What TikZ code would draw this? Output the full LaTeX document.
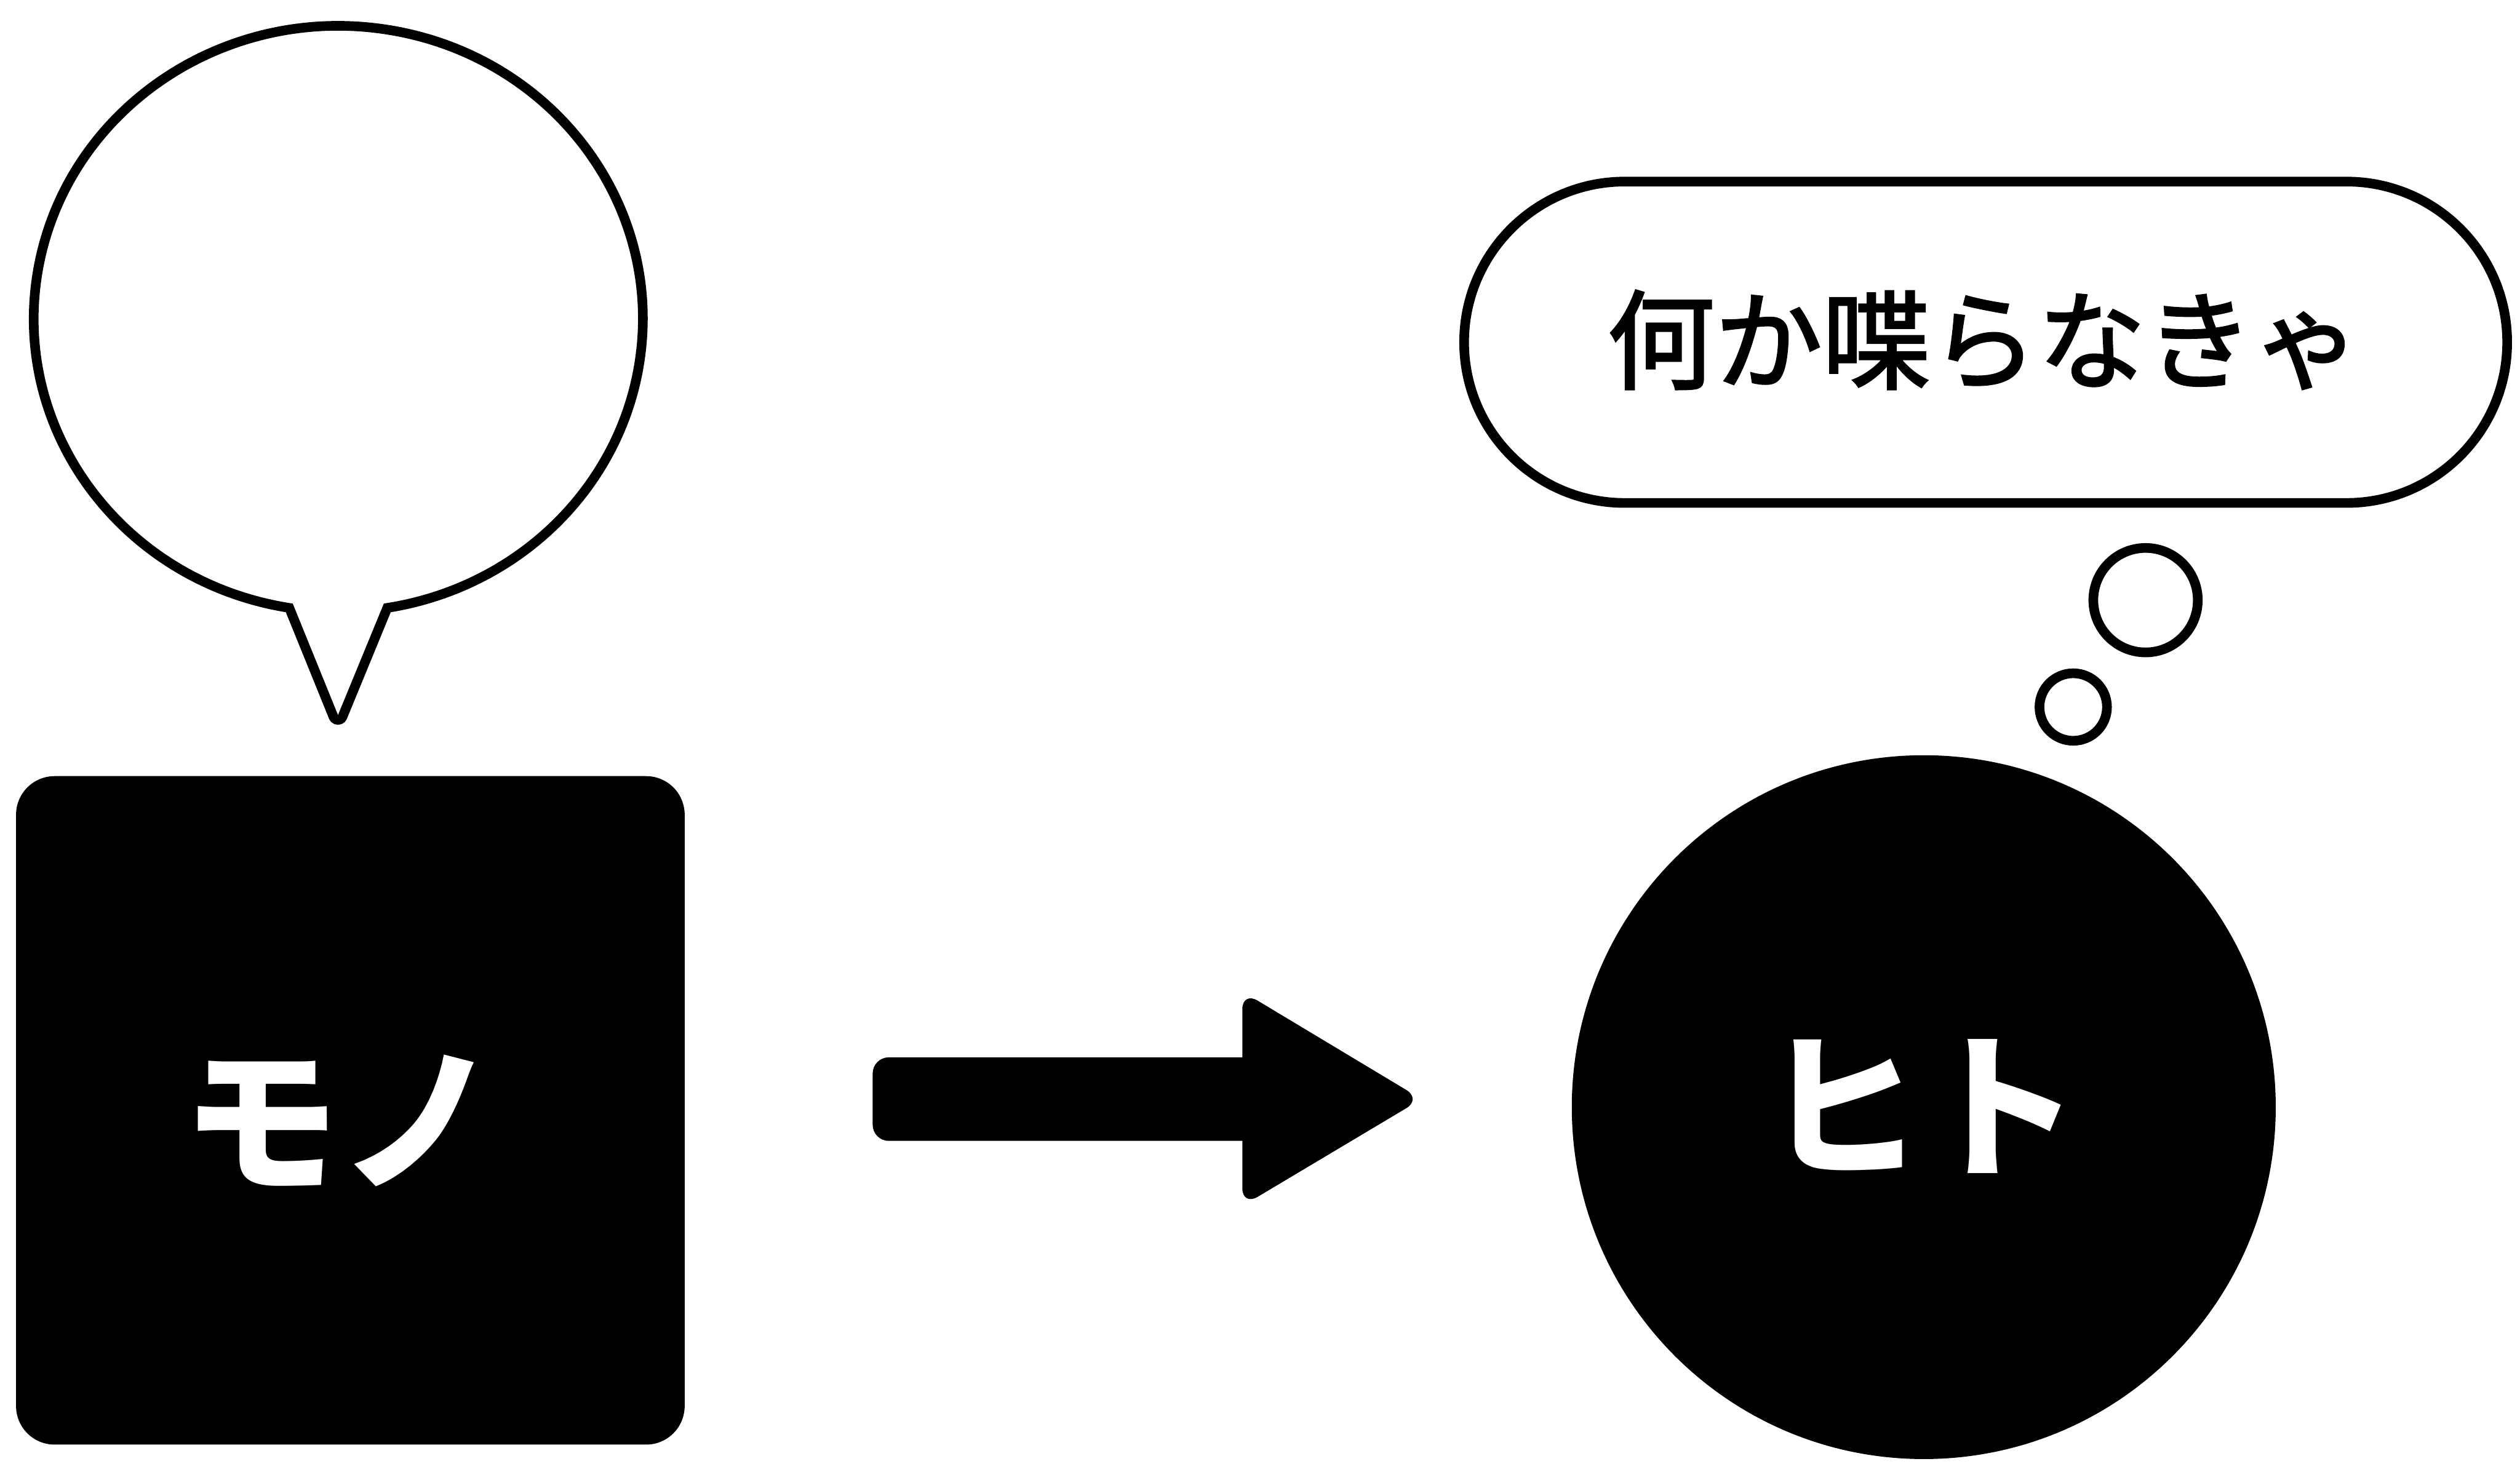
\documentclass[tikz,border=0pt]{standalone}
\usepackage{fontspec}
\newfontfamily\jpfont{Noto Sans CJK JP}
\newfontfamily\jpmedium{Noto Sans CJK JP}[FakeBold=2]
\begin{document}
\begin{tikzpicture}[x=1pt,y=-1pt,
  outline/.style={draw=black, fill=white, line width=6pt},
  bigtext/.style={text=white, font=\jpfont\bfseries\fontsize{98}{98}\selectfont, inner sep=0pt},
  thinktext/.style={font=\jpmedium\fontsize{67}{67}\selectfont, inner sep=0pt}]
\useasboundingbox[fill=white] (0,0) rectangle (1568,916);

% speech bubble
\draw[outline, line join=miter] (180,378.3)
  arc[start angle=99.26, end angle=440.74, x radius=189.5, y radius=182.3]
  -- (213.07,446.16) arc[start angle=22.7, end angle=157.3, radius=3] -- cycle;

% black square
\node[fill=black, rounded corners=24pt, minimum width=416pt, minimum height=416pt, inner sep=0pt] (mono) at (218,691) {};
\node[bigtext] (monolabel) at (211.5,697.5) {モノ};

% arrow
\fill[rounded corners=10pt] (543,658) rectangle (800,710);
\fill[rounded corners=11pt] (773,617) -- (884.5,684) -- (773,750.5) -- cycle;

% black circle
\node[circle, fill=black, minimum size=438pt, inner sep=0pt] (hito) at (1197,689) {};
\node[bigtext] (hitolabel) at (1196,688.5) {ヒト};

% thought bubble
\node[outline, rounded corners=100pt, minimum width=649pt, minimum height=200pt, inner sep=0pt] (think) at (1235.5,213) {};
\node[thinktext] (thinklabel) at (1234.5,211.5) {何か喋らなきゃ};
\node[outline, circle, minimum size=65pt, inner sep=0pt] (bubA) at (1335,373.5) {};
\node[outline, circle, minimum size=42pt, inner sep=0pt] (bubB) at (1290,440) {};
\end{tikzpicture}
\end{document}
